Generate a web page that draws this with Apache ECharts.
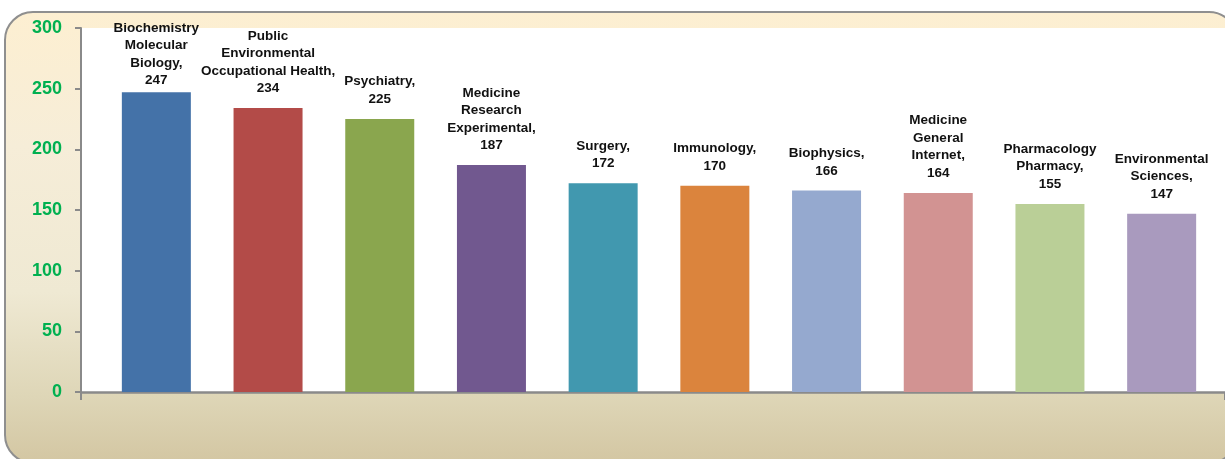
<!DOCTYPE html>
<html>
<head>
<meta charset="utf-8">
<title>Publications by subject area</title>
<script src="https://cdn.jsdelivr.net/npm/echarts@6/dist/echarts.min.js"></script>
<style>
  html, body { margin: 0; padding: 0; background: #ffffff; }
  #chart { width: 1225px; height: 459px; }
</style>
</head>
<body>
<div id="chart"></div>
<script>
// Subject areas (line breaks as they appear in the bar labels)
const categories = [
  'Biochemistry\nMolecular\nBiology',
  'Public\nEnvironmental\nOccupational Health',
  'Psychiatry',
  'Medicine\nResearch\nExperimental',
  'Surgery',
  'Immunology',
  'Biophysics',
  'Medicine\nGeneral\nInternet',
  'Pharmacology\nPharmacy',
  'Environmental\nSciences'
];

// Record counts per subject area
const values = [247, 234, 225, 187, 172, 170, 166, 164, 155, 147];

// Value axis range and step
const yMin = 0;
const yMax = 300;
const yStep = 50;

// One colour per bar
const palette = [
  '#4472A8', '#B34B48', '#8AA64E', '#71588F', '#4198AF',
  '#DB843D', '#95A9CF', '#D29392', '#BACF97', '#A99ABE'
];

const labelFont = "'Liberation Sans', Arial, sans-serif";
const axisGrey = '#8A8A8A';

const chart = echarts.init(document.getElementById('chart'), null, { renderer: 'canvas' });

const option = {
  animation: false,
  backgroundColor: '#ffffff',
  graphic: [
    {
      // rounded chart-area panel with a warm vertical gradient
      type: 'rect',
      z: -10,
      silent: true,
      shape: { x: 5, y: 12, width: 1232, height: 451, r: 28 },
      style: {
        fill: new echarts.graphic.LinearGradient(0, 0, 0, 1, [
          { offset: 0, color: '#FDEFD1' },
          { offset: 0.3, color: '#F6EDD8' },
          { offset: 0.62, color: '#EFE9D3' },
          { offset: 0.85, color: '#DED6B7' },
          { offset: 1, color: '#D3C6A2' }
        ]),
        stroke: '#8F8F8F',
        lineWidth: 2
      }
    }
  ],
  grid: [
    {
      // bars
      left: 100.5, top: 28, width: 1117, bottom: 67,
      containLabel: false
    },
    {
      // white plot area with the axes
      left: 81, top: 28, right: -40, bottom: 67,
      show: true,
      backgroundColor: '#ffffff',
      borderWidth: 0,
      containLabel: false
    }
  ],
  xAxis: [
    {
      gridIndex: 0,
      type: 'category',
      data: categories,
      show: false
    },
    {
      gridIndex: 1,
      type: 'value',
      min: 0,
      max: 1,
      interval: 1,
      axisLine: { show: true, onZero: false, lineStyle: { color: axisGrey, width: 2.5 } },
      axisTick: { show: true, inside: false, length: 8, lineStyle: { color: axisGrey, width: 2 } },
      axisLabel: { show: false },
      splitLine: { show: false }
    }
  ],
  yAxis: [
    {
      gridIndex: 0,
      type: 'value',
      min: yMin,
      max: yMax,
      interval: yStep,
      show: false
    },
    {
      gridIndex: 1,
      type: 'value',
      min: yMin,
      max: yMax,
      interval: yStep,
      axisLine: { show: true, lineStyle: { color: axisGrey, width: 2 } },
      axisTick: { show: true, inside: false, length: 6, lineStyle: { color: axisGrey, width: 2 } },
      axisLabel: {
        margin: 19,
        color: '#00B050',
        fontFamily: labelFont,
        fontWeight: 'bold',
        fontSize: 18
      },
      splitLine: { show: false }
    }
  ],
  series: [
    {
      type: 'bar',
      xAxisIndex: 0,
      yAxisIndex: 0,
      barWidth: 69,
      z: 5,
      data: values.map((v, i) => {
        const item = { value: v, itemStyle: { color: palette[i] } };
        // the tallest label sits closer to its bar to stay inside the panel
        if (i === 0) item.label = { distance: 3 };
        return item;
      }),
      label: {
        show: true,
        position: 'top',
        distance: 11,
        align: 'center',
        color: '#111111',
        fontFamily: labelFont,
        fontWeight: 'bold',
        fontSize: 13.5,
        lineHeight: 17.5,
        formatter: p => p.name + ',\n' + p.value
      }
    }
  ]
};

chart.setOption(option);
</script>
</body>
</html>
